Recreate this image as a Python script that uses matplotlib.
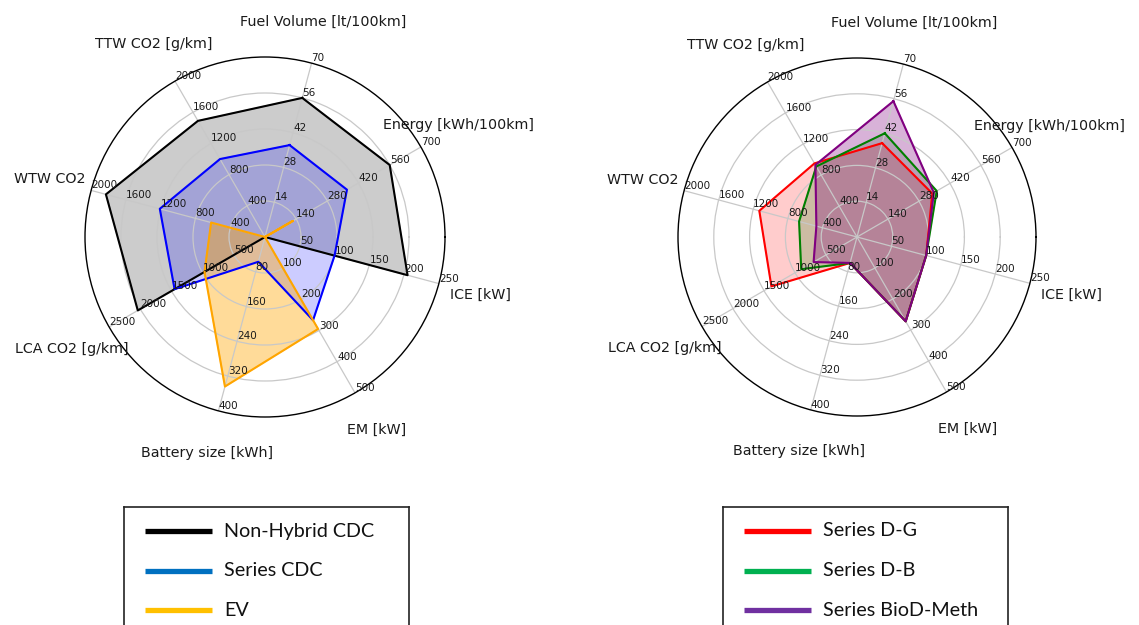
import numpy as np
import matplotlib
matplotlib.use("Agg")
from matplotlib import pyplot as plt

# Radar axes, listed counter-clockwise starting at the fuel spoke
variables = ["Fuel Volume [lt/100km]", "TTW CO2 [g/km]", "WTW CO2", "LCA CO2 [g/km]",
             "Battery size [kWh]", "EM [kW]", "ICE [kW]", "Energy [kWh/100km]"]
range_max = [70, 2000, 2000, 2500, 400, 500, 250, 700]

# Left chart: conventional vehicles
non_hybrid_cdc = [56, 1490, 1830, 2040, 0, 0, 205, 560]
series_cdc = [37, 1000, 1210, 1450, 57, 267, 100, 368]
ev = [0, 0, 620, 970, 344, 295, 0, 125]

# Right chart: series hybrids with alternative fuels
series_dg = [38, 950, 1130, 1380, 60, 272, 100, 340]
series_db = [42, 910, 670, 900, 60, 272, 100, 360]
series_biod_meth = [55, 930, 470, 700, 60, 272, 100, 347]

left_series = [("Non-Hybrid CDC", non_hybrid_cdc, "black", "#000000", 0.2),
               ("Series CDC", series_cdc, "blue", "#0070C0", 0.2),
               ("EV", ev, "orange", "#FFC000", 0.4)]
right_series = [("Series D-G", series_dg, "red", "#FF0000", 0.2),
                ("Series D-B", series_db, "green", "#00B050", 0.2),
                ("Series BioD-Meth", series_biod_meth, "purple", "#7030A0", 0.3)]

W, H = 1139, 625
angles = (75 + 45 * np.arange(len(variables))) % 360


def radar(fig, cx, cy, R, series):
    rect = [(cx - R) / W, (H - cy - R) / H, 2 * R / W, 2 * R / H]
    ax = fig.add_axes(rect, polar=True, label="main{}".format(cx))
    ax.set_thetagrids(angles, labels=[""] * len(variables))
    ax.set_rgrids([0.2, 0.4, 0.6, 0.8], labels=[""] * 4)
    ax.set_ylim(0, 1)
    ax.grid(color="#c8c8c8", lw=0.9)
    ax.spines["polar"].set_color("black")
    ax.spines["polar"].set_linewidth(1.0)
    for ang, name in zip(np.deg2rad(angles), variables):
        ax.text(ang, 1.24, name, ha="center", va="center", fontsize=10.3,
                color="#1a1a1a", clip_on=False)

    theta = np.deg2rad(np.append(angles, angles[0]))
    for name, vals, col, _, alpha in series:
        r = np.array(vals) / np.array(range_max)
        r = np.append(r, r[0])
        ax.plot(theta, r, color=col, lw=1.5)
        ax.fill(theta, r, color=col, alpha=alpha)

    # one transparent axes per spoke, only to carry that spoke's scale
    for i, (ang, vmax) in enumerate(zip(angles, range_max)):
        lax = fig.add_axes(rect, polar=True, label="lab{}_{}".format(cx, i))
        lax.patch.set_visible(False)
        lax.xaxis.set_visible(False)
        lax.spines["polar"].set_visible(False)
        grid = np.linspace(0, vmax, 6)[1:]
        lax.set_rgrids(grid, labels=["{:g}".format(g) for g in grid], angle=ang,
                       fontsize=7.5, color="#1a1a1a")
        lax.yaxis.grid(False)
        lax.set_ylim(0, vmax)
    return ax


def legend_box(fig, x0, x1, y_top, series):
    lax = fig.add_axes([x0 / W, (H - 640) / H, (x1 - x0) / W, (640 - y_top) / H])
    lax.set_xlim(x0, x1)
    lax.set_ylim(640, y_top)
    lax.set_xticks([])
    lax.set_yticks([])
    for s in lax.spines.values():
        s.set_linewidth(1.2)
        s.set_color("#222222")
    for k, (name, _, _, lcol, _) in enumerate(series):
        y = 531 + 39.5 * k
        lax.plot([x0 + 21, x0 + 88], [y, y], color=lcol, lw=3.8, solid_capstyle="butt")
        lax.text(x0 + 100, y, name, ha="left", va="center", fontsize=14.2,
                 family=["Lato", "DejaVu Sans"], color="#111111")


fig = plt.figure(figsize=(W / 100, H / 100), dpi=100)
radar(fig, 265, 237, 180, left_series)
radar(fig, 857, 237, 179, right_series)
legend_box(fig, 124, 409, 507, left_series)
legend_box(fig, 723, 1008, 507, right_series)
fig.savefig("out.png", dpi=100)
